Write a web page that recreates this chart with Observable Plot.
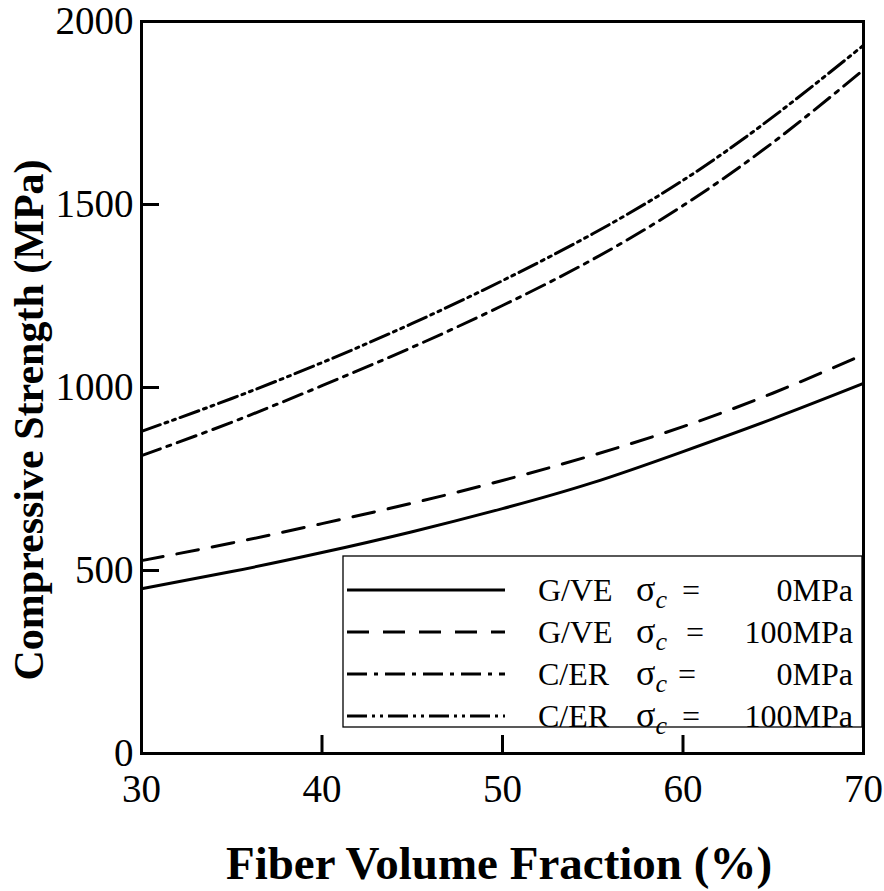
<!DOCTYPE html>
<html><head><meta charset="utf-8">
<script src="https://cdn.jsdelivr.net/npm/d3@7"></script>
<script src="https://cdn.jsdelivr.net/npm/@observablehq/plot@0.6"></script>
<style>
body{margin:0;background:#fff;}
#wrap{position:relative;width:884px;height:891px;}
#wrap svg, #wrap svg text{font-family:"Liberation Serif","Times New Roman",serif !important;font-variant:normal !important;}
#overlay{position:absolute;left:0;top:0;}
</style></head><body><div id="wrap"></div>
<script>
// Fiber volume fraction (%)
const fiberVolume = [30, 35, 40, 45, 50, 55, 60, 65, 70];
// Compressive strength (MPa)
const gve0   = [450, 497, 549, 606, 669, 740, 825, 915, 1011];
const gve100 = [527, 575, 628, 684, 746, 815, 893, 985, 1090];
const cer0   = [814, 905, 1005, 1110, 1224, 1350, 1497, 1670, 1868];
const cer100 = [880, 970, 1068, 1175, 1292, 1420, 1566, 1740, 1935];

const seriesMaterial = ["G/VE", "G/VE", "C/ER", "C/ER"];
const seriesSigma = ["0MPa", "100MPa", "0MPa", "100MPa"];
const seriesDash = ["none", "22,14", "20,7,4,7", "20,5,3,5,3,5"];
const seriesValues = [gve0, gve100, cer0, cer100];

const xTicks = [30, 40, 50, 60, 70];
const yTicks = [0, 500, 1000, 1500, 2000];
const xTitle = "Fiber Volume Fraction (%)";
const yTitle = "Compressive Strength (MPa)";

const lines = seriesValues.map((vals, i) =>
  Plot.line(fiberVolume.map((x, j) => ({x, y: vals[j]})), {
    x: "x", y: "y", curve: "natural", stroke: "#000", strokeWidth: 3,
    strokeDasharray: seriesDash[i]
  })
);

const serif = '"Liberation Serif", serif';
const chart = Plot.plot({
  width: 884, height: 891,
  marginLeft: 141, marginRight: 21, marginTop: 21, marginBottom: 138,
  style: {fontFamily: serif, fontSize: "39px", color: "#000", background: "#fff"},
  x: {domain: [30, 70]},
  y: {domain: [0, 2000]},
  marks: [
    Plot.axisX({ticks: xTicks, tickSize: -18, tickPadding: 39, strokeWidth: 3, tickFormat: d => String(d),
      fontFamily: serif, fontVariant: "normal", fontSize: 39, label: null}),
    Plot.axisY({ticks: yTicks, tickSize: -18, tickPadding: 26, strokeWidth: 3, tickFormat: d => String(d),
      fontFamily: serif, fontVariant: "normal", fontSize: 39, label: null}),
    ...lines,
    Plot.frame({stroke: "#000", strokeWidth: 3})
  ]
});
document.getElementById("wrap").appendChild(chart);

// Overlay: axis titles and legend
const ov = d3.select("#wrap").append("svg").attr("id", "overlay")
  .attr("width", 884).attr("height", 891);
ov.append("text").attr("x", 499).attr("y", 879).attr("text-anchor", "middle")
  .attr("font-size", 47).attr("font-weight", "bold").text(xTitle);
ov.append("text").attr("transform", "translate(43,420) rotate(-90)").attr("text-anchor", "middle")
  .attr("font-size", 42).attr("font-weight", "bold").text(yTitle);

ov.append("rect").attr("x", 343).attr("y", 556).attr("width", 519).attr("height", 171)
  .attr("fill", "#fff").attr("stroke", "#000").attr("stroke-width", 1.3);
const rowY = [590, 632, 674, 716];
const eqX = [682, 686, 678, 682];
seriesMaterial.forEach((m, i) => {
  const y = rowY[i];
  ov.append("line").attr("x1", 347).attr("x2", 505).attr("y1", y).attr("y2", y)
    .attr("stroke", "#000").attr("stroke-width", 3)
    .attr("stroke-dasharray", seriesDash[i] === "none" ? null : seriesDash[i]);
  const ty = y + 11;
  ov.append("text").attr("x", 538).attr("y", ty).attr("font-size", 32).text(m);
  const s = ov.append("text").attr("x", 636).attr("y", ty).attr("font-size", 36);
  s.append("tspan").text("σ");
  s.append("tspan").attr("font-style", "italic").attr("font-size", 26).attr("dy", 7).text("c");
  ov.append("text").attr("x", eqX[i]).attr("y", ty).attr("font-size", 32).text("=");
  ov.append("text").attr("x", 853).attr("y", ty).attr("font-size", 32).attr("text-anchor", "end").text(seriesSigma[i]);
});
</script></body></html>
